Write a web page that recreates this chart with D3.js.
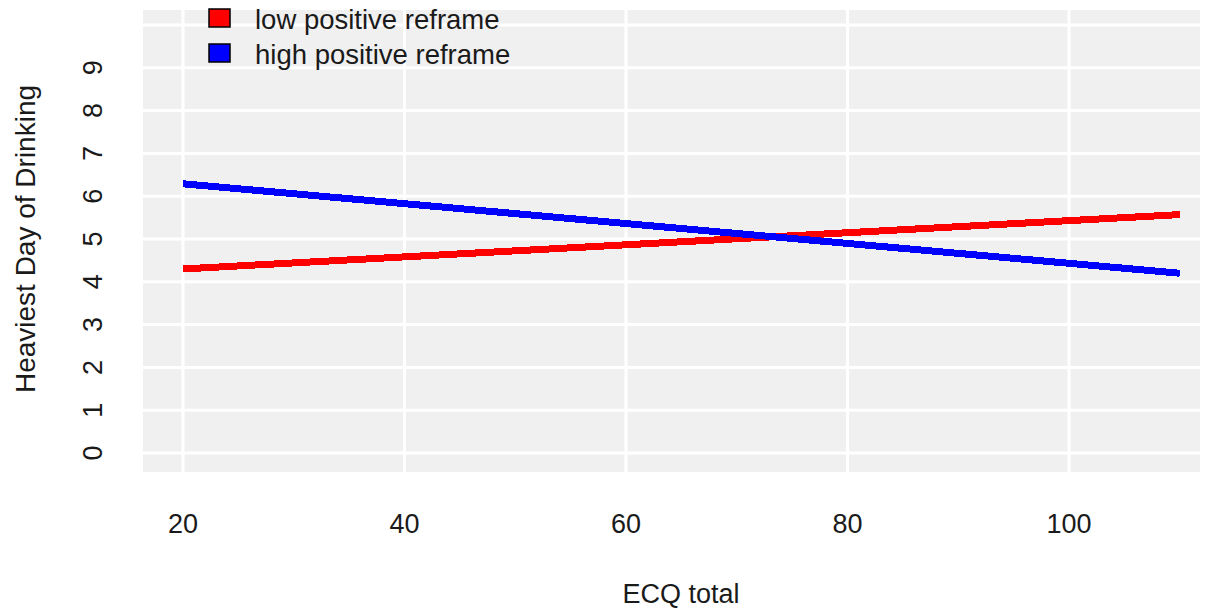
<!DOCTYPE html>
<html><head><meta charset="utf-8">
<script src="https://cdn.jsdelivr.net/npm/d3@7"></script>
<style>body{margin:0;background:#fff}svg{display:block}text{font-family:"Liberation Sans",Arial,sans-serif}</style>
</head><body><svg id="c" width="1215" height="611"></svg>
<script>
const ecq = [20, 110];
const lowReframe = [4.30, 5.57];
const highReframe = [6.29, 4.20];
const seriesNames = ["low positive reframe", "high positive reframe"];
const seriesColors = ["#ff0000", "#0000ff"];
const xTicks = [20, 40, 60, 80, 100];
const yTicks = [0,1,2,3,4,5,6,7,8,9];
const yGrid = [0,1,2,3,4,5,6,7,8,9,10];

const svg = d3.select("#c");
const x = d3.scaleLinear().domain([20,100]).range([183,1069]);
const y = d3.scaleLinear().domain([0,10]).range([453,25]);
const panel = {x0:143, x1:1200, y0:10, y1:472};
const txt = "#1a1a1a";

svg.append("rect").attr("x",panel.x0).attr("y",panel.y0)
  .attr("width",panel.x1-panel.x0).attr("height",panel.y1-panel.y0).attr("fill","#f0f0f0");

svg.append("g").selectAll("line").data(yGrid).join("line")
  .attr("x1",panel.x0).attr("x2",panel.x1).attr("y1",d=>y(d)).attr("y2",d=>y(d))
  .attr("stroke","#fff").attr("stroke-width",3);
svg.append("g").selectAll("line").data(xTicks).join("line")
  .attr("y1",panel.y0).attr("y2",panel.y1).attr("x1",d=>x(d)).attr("x2",d=>x(d))
  .attr("stroke","#fff").attr("stroke-width",3);

const line = d3.line().x(d=>x(d[0])).y(d=>y(d[1]));
[lowReframe, highReframe].forEach((s,i)=>{
  svg.append("path").datum(ecq.map((v,j)=>[v,s[j]])).attr("d",line)
    .attr("fill","none").attr("stroke",seriesColors[i]).attr("stroke-width",7)
    .attr("shape-rendering","crispEdges");
});

// y ticks
svg.append("g").selectAll("text").data(yTicks).join("text")
  .attr("transform",d=>`translate(102,${y(d)}) rotate(-90)`)
  .attr("text-anchor","middle").attr("font-size",27).attr("fill",txt)
  .text(d=>d);
// x ticks
svg.append("g").selectAll("text").data(xTicks).join("text")
  .attr("x",d=>x(d)).attr("y",533).attr("text-anchor","middle")
  .attr("font-size",27).attr("fill",txt).text(d=>d);

svg.append("text").attr("x",681).attr("y",603).attr("text-anchor","middle")
  .attr("font-size",27).attr("fill",txt).text("ECQ total");
svg.append("text").attr("transform","translate(35,239) rotate(-90)")
  .attr("text-anchor","middle").attr("font-size",28).attr("fill",txt).text("Heaviest Day of Drinking");

// legend
const lg = svg.append("g").selectAll("g").data(seriesNames).join("g")
  .attr("transform",(d,i)=>`translate(209,${9+i*35})`);
lg.append("rect").attr("width",21).attr("height",18)
  .attr("fill",(d,i)=>seriesColors[i]).attr("stroke","#000").attr("stroke-width",1.5);
lg.append("text").attr("x",46).attr("y",20).attr("font-size",27.5).attr("fill",txt).text(d=>d);
</script></body></html>
